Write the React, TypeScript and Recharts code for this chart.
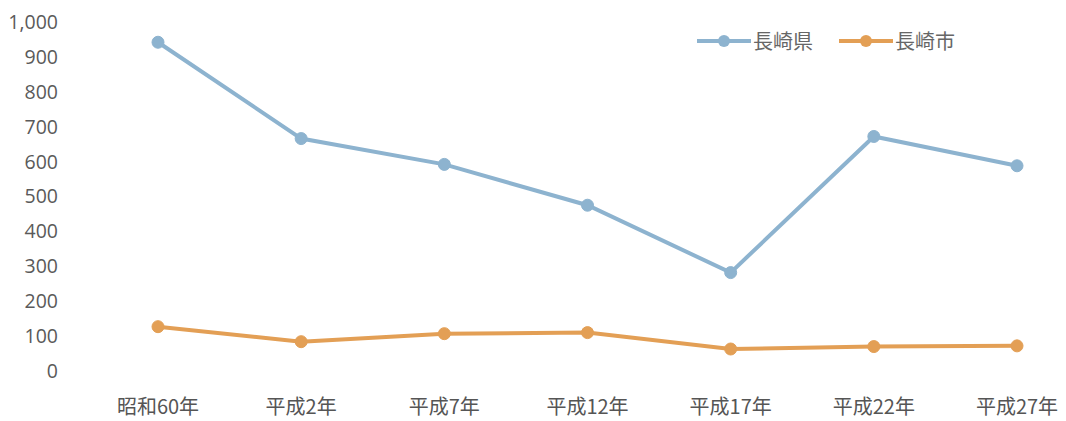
import { LineChart, Line, XAxis, YAxis } from "recharts";

const years = ["昭和60年", "平成2年", "平成7年", "平成12年", "平成17年", "平成22年", "平成27年"];
const prefecture = [942, 666, 592, 475, 282, 672, 588];
const city = [127, 84, 107, 110, 63, 70, 72];
const yTicks = [0, 100, 200, 300, 400, 500, 600, 700, 800, 900, 1000];

const SERIES = [
  { key: "pref", label: "長崎県", color: "#8db3cf" },
  { key: "city", label: "長崎市", color: "#e39f55" },
];

const data = years.map((year, i) => ({ year, pref: prefecture[i], city: city[i] }));

const FONT = "'Noto Sans CJK JP', 'Open Sans', sans-serif";

// legend drawn as an overlay so it doesn't take space from the plot
function ChartLegend() {
  return (
    <div
      style={{
        position: "absolute",
        left: 697,
        top: 26,
        display: "flex",
        gap: 26,
        fontFamily: FONT,
        fontSize: 20,
        color: "#666",
      }}
    >
      {SERIES.map((s) => (
        <div key={s.key} style={{ display: "flex", alignItems: "center" }}>
          <svg width={54} height={14}>
            <line x1={0} y1={7} x2={54} y2={7} stroke={s.color} strokeWidth={4} />
            <circle cx={27} cy={7} r={6} fill={s.color} />
          </svg>
          <span style={{ marginLeft: 2 }}>{s.label}</span>
        </div>
      ))}
    </div>
  );
}

export default function App() {
  return (
    <div style={{ position: "fixed", left: 0, top: 0, width: 1066, height: 421, background: "#fff" }}>
      <LineChart width={1066} height={421} data={data} margin={{ top: 22, right: 10, left: 0, bottom: 0 }}>
        <XAxis
          dataKey="year"
          axisLine={false}
          tickLine={false}
          padding={{ left: 88, right: 39 }}
          height={50}
          tickMargin={23}
          tick={{ fontSize: 20, fill: "#555", fontFamily: FONT }}
        />
        <YAxis
          domain={[0, 1000]}
          ticks={yTicks}
          axisLine={false}
          tickLine={false}
          width={70}
          tickMargin={6}
          tickFormatter={(v: number) => v.toLocaleString("en-US")}
          tick={{ fontSize: 19.5, fill: "#5a5a5a", fontFamily: "'Open Sans', sans-serif" }}
        />
        {SERIES.map((s) => (
          <Line
            key={s.key}
            dataKey={s.key}
            name={s.label}
            stroke={s.color}
            strokeWidth={4}
            dot={{ r: 6, fill: s.color, stroke: s.color, strokeWidth: 1 }}
            isAnimationActive={false}
          />
        ))}
      </LineChart>
      <ChartLegend />
    </div>
  );
}
